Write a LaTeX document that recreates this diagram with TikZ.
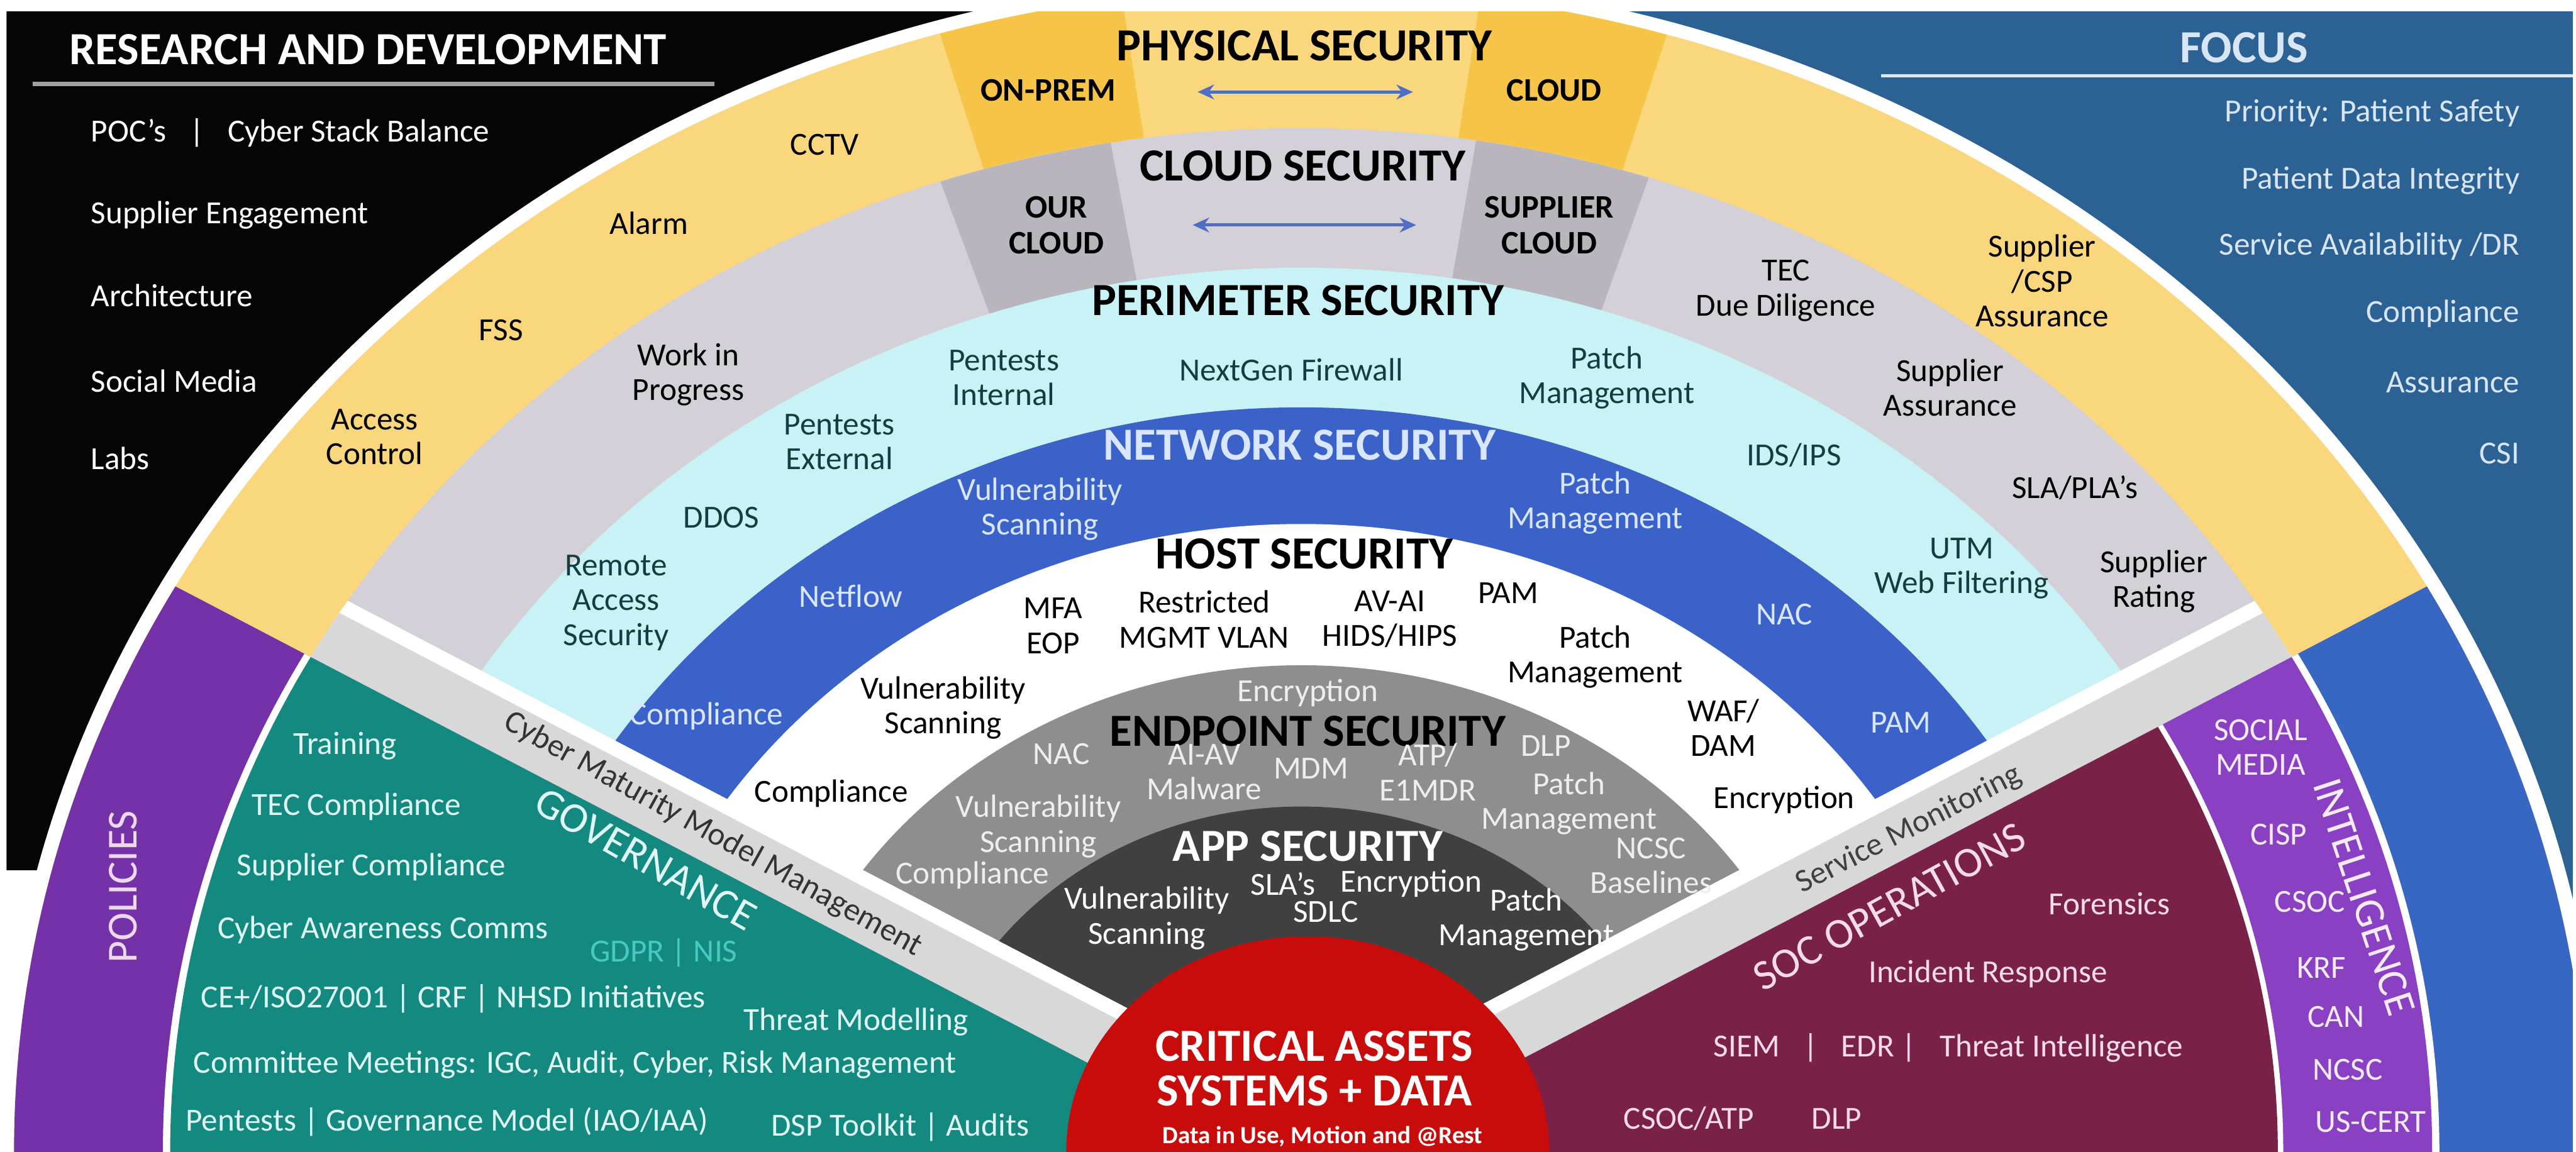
\documentclass[tikz,border=0pt]{standalone}
\usepackage{fontspec}
\setmainfont{Carlito}
\usetikzlibrary{arrows.meta}

\definecolor{rdblack}{HTML}{050505}
\definecolor{focusblue}{HTML}{2C6194}
\definecolor{focustext}{HTML}{D8E5F4}
\definecolor{physyel}{HTML}{FAD67C}
\definecolor{physdark}{HTML}{F6C446}
\definecolor{cloudgr}{HTML}{D3D1D7}
\definecolor{clouddark}{HTML}{B8B6BC}
\definecolor{perimcy}{HTML}{C9F2F7}
\definecolor{perimtext}{HTML}{173C40}
\definecolor{netblue}{HTML}{3B62C8}
\definecolor{nettext}{HTML}{D9E6FF}
\definecolor{endgr}{HTML}{8E8E8E}
\definecolor{endtext}{HTML}{EEEEEE}
\definecolor{appgr}{HTML}{404040}
\definecolor{critred}{HTML}{C80C0C}
\definecolor{govteal}{HTML}{13897F}
\definecolor{govtext}{HTML}{E0F8F5}
\definecolor{gdprtext}{HTML}{46C9C0}
\definecolor{polpurple}{HTML}{7431A8}
\definecolor{intpurple}{HTML}{8A40C2}
\definecolor{socmaroon}{HTML}{7A2148}
\definecolor{soctext}{HTML}{F6DBE9}
\definecolor{outblue}{HTML}{3866C3}
\definecolor{bandgr}{HTML}{D8D8D8}
\definecolor{arrowblue}{HTML}{4D6DC6}

\begin{document}
\begin{tikzpicture}[x=0.5pt, y=0.5pt,
    item/.style={font=\fontsize{9.8}{10.6}\selectfont, align=center, inner sep=0pt},
    hdr/.style={font=\bfseries\fontsize{14}{16}\selectfont, inner sep=0pt},
    tag/.style={font=\bfseries\fontsize{10}{11}\selectfont, align=center, inner sep=0pt},
    big/.style={font=\fontsize{13}{15}\selectfont, inner sep=0pt},
    twoway/.style={{Stealth[length=5pt,width=4.5pt]}-{Stealth[length=5pt,width=4.5pt]}, line width=1pt, draw=arrowblue}]

\useasboundingbox (0,0) rectangle (1568,701);
\fill[white] (0,0) rectangle (1568,701);

\begin{scope}
  \clip (4,0) rectangle (1566,694);
  \fill[rdblack] (4,171) rectangle (792,694);
  \fill[focusblue] (792,0) rectangle (1566,694);
  \begin{scope}[shift={(792,0)}, xscale=1.105]
    % rings, outside in
    \fill[white] (0,0) circle[radius=717];
    \fill[physyel] (0,0) circle[radius=709];
    \fill[physdark] (98:623) arc[start angle=98, end angle=106.3, radius=623] -- (106.3:709) arc[start angle=106.3, end angle=98, radius=709] -- cycle;
    \fill[physdark] (73.5:623) arc[start angle=73.5, end angle=82, radius=623] -- (82:709) arc[start angle=82, end angle=73.5, radius=709] -- cycle;
    \fill[cloudgr] (0,0) circle[radius=623];
    \fill[clouddark] (99.7:538) arc[start angle=99.7, end angle=108.6, radius=538] -- (108.6:623) arc[start angle=108.6, end angle=99.7, radius=623] -- cycle;
    \fill[clouddark] (72.1:538) arc[start angle=72.1, end angle=81.1, radius=538] -- (81.1:623) arc[start angle=81.1, end angle=72.1, radius=623] -- cycle;
    \fill[perimcy] (0,0) circle[radius=538];
    \fill[netblue] (0,0) circle[radius=453];
    \fill[white] (0,0) circle[radius=382];
    \fill[endgr] (0,0) circle[radius=296];
    \fill[appgr] (0,0) circle[radius=210];
    % separating bands
    \begin{scope}
      \clip (0,0) circle[radius=623];
      \fill[white] (0,-14) -- ++(150:800) -- ++(0,46) -- (0,32) -- cycle;
      \fill[white] (0,-14) -- ++(30:800) -- ++(0,46) -- (0,32) -- cycle;
      \fill[bandgr] (0,-14) -- ++(150:800) -- ++(0,36) -- (0,22) -- cycle;
      \fill[bandgr] (0,-14) -- ++(30:800) -- ++(0,36) -- (0,22) -- cycle;
    \end{scope}
    % governance and policies
    \begin{scope}
      \clip (0,-14) -- ++(150:900) -- (-900,-20) -- cycle;
      \fill[polpurple] (0,0) circle[radius=709];
      \fill[white] (0,0) circle[radius=627];
      \fill[govteal] (0,0) circle[radius=623];
    \end{scope}
    % soc and intelligence
    \begin{scope}
      \clip (0,-14) -- ++(30:900) -- (900,-20) -- cycle;
      \fill[outblue] (0,0) circle[radius=709];
      \fill[white] (0,0) circle[radius=627];
      \fill[intpurple] (0,0) circle[radius=623];
      \fill[white] (0,0) circle[radius=541];
      \fill[socmaroon] (0,0) circle[radius=538];
    \end{scope}
  \end{scope}
  \fill[critred] (796,0) ellipse[x radius=147, y radius=131];
\end{scope}

\draw[gray!75, line width=1.3pt] (20,650) -- (435,650);
\draw[focustext, line width=1pt] (1145,655) -- (1566,655);

\node[hdr, text=white] (rdtitle) at (224,671) {RESEARCH AND DEVELOPMENT};
\node[item, text=white, anchor=west] (rd1) at (55,620) {POC's\enspace\ |\enspace\ Cyber Stack Balance};
\node[item, text=white, anchor=west] (rd2) at (55,570) {Supplier Engagement};
\node[item, text=white, anchor=west] (rd3) at (55,521) {Architecture};
\node[item, text=white, anchor=west] (rd4) at (55,469) {Social Media};
\node[item, text=white, anchor=west] (rd5) at (55,422) {Labs};

\node[hdr, text=focustext] (focus) at (1366,672) {FOCUS};
\node[item, text=focustext, anchor=east] (f1) at (1534,632) {Priority: Patient Safety};
\node[item, text=focustext, anchor=east] (f2) at (1534,591) {Patient Data Integrity};
\node[item, text=focustext, anchor=east] (f3) at (1534,551) {Service Availability /DR};
\node[item, text=focustext, anchor=east] (f4) at (1534,510) {Compliance};
\node[item, text=focustext, anchor=east] (f5) at (1534,468) {Assurance};
\node[item, text=focustext, anchor=east] (f6) at (1534,425) {CSI};

\node[hdr] (phys) at (794,673) {PHYSICAL SECURITY};
\node[tag] (onprem) at (638,646) {ON-PREM};
\node[tag] (cloudp) at (946,646) {CLOUD};
\coordinate (pl) at (729,645);
\coordinate (pr) at (860,645);
\draw[twoway] (pl) -- (pr);
\node[item] (cctv) at (502,613) {CCTV};
\node[item] (alarm) at (395,565) {Alarm};
\node[item] (fss) at (305,500) {FSS};
\node[item] (access) at (228,435) {Access\\Control};
\node[item] (csp) at (1243,530) {Supplier\\/CSP\\Assurance};

\node[hdr] (cloud) at (793,600) {CLOUD SECURITY};
\node[tag] (ourcloud) at (643,564) {OUR\\CLOUD};
\node[tag] (suppcloud) at (943,564) {SUPPLIER\\CLOUD};
\coordinate (cl) at (726,564);
\coordinate (cr) at (862,564);
\draw[twoway] (cl) -- (cr);
\node[item] (wip) at (419,473) {Work in\\Progress};
\node[item] (tecdd) at (1087,524) {TEC\\Due Diligence};
\node[item] (suppas) at (1187,465) {Supplier\\Assurance};
\node[item] (slapla) at (1263,404) {SLA/PLA's};
\node[item] (supprate) at (1311,347) {Supplier\\Rating};

\node[hdr] (perim) at (790,518) {PERIMETER SECURITY};
\node[item, text=perimtext] (pentint) at (611,471) {Pentests\\Internal};
\node[item, text=perimtext] (nextgen) at (786,476) {NextGen Firewall};
\node[item, text=perimtext] (perpatch) at (978,471) {Patch\\Management};
\node[item, text=perimtext] (pentext) at (511,432) {Pentests\\External};
\node[item, text=perimtext] (ddos) at (439,386) {DDOS};
\node[item, text=perimtext] (remote) at (375,334) {Remote\\Access\\Security};
\node[item, text=perimtext] (idsips) at (1092,424) {IDS/IPS};
\node[item, text=perimtext] (utm) at (1194,355) {UTM\\Web Filtering};

\node[hdr, text=nettext] (net) at (791,430) {NETWORK SECURITY};
\node[item, text=nettext] (netvuln) at (633,391) {Vulnerability\\Scanning};
\node[item, text=nettext] (netpatch) at (971,395) {Patch\\Management};
\node[item, text=nettext] (netflow) at (518,338) {Netflow};
\node[item, text=nettext] (netnac) at (1086,327) {NAC};
\node[item, text=nettext] (netcomp) at (430,265) {Compliance};
\node[item, text=nettext] (netpam) at (1157,261) {PAM};

\node[hdr] (host) at (794,364) {HOST SECURITY};
\node[item] (mfa) at (641,320) {MFA\\EOP};
\node[item] (mgmt) at (733,324) {Restricted\\MGMT VLAN};
\node[item] (avai) at (846,324) {AV-AI\\HIDS/HIPS};
\node[item] (hostpam) at (918,340) {PAM};
\node[item] (hostpatch) at (971,301) {Patch\\Management};
\node[item] (hostvuln) at (574,270) {Vulnerability\\Scanning};
\node[item] (wafdam) at (1049,258) {WAF/\\DAM};
\node[item] (hostcomp) at (506,218) {Compliance};
\node[item] (hostenc) at (1086,214) {Encryption};

\node[item, text=endtext] (endenc) at (796,279) {Encryption};
\node[hdr] (endp) at (796,256) {ENDPOINT SECURITY};
\node[item, text=endtext] (endnac) at (646,242) {NAC};
\node[item, text=endtext] (aiav) at (733,231) {AI-AV\\Malware};
\node[item, text=endtext] (mdm) at (798,233) {MDM};
\node[item, text=endtext] (atp) at (869,231) {ATP/\\E1MDR};
\node[item, text=endtext] (enddlp) at (941,247) {DLP};
\node[item, text=endtext] (endpatch) at (955,212) {Patch\\Management};
\node[item, text=endtext] (endvuln) at (632,198) {Vulnerability\\Scanning};
\node[item, text=endtext] (endcomp) at (592,168) {Compliance};
\node[item, text=endtext] (ncsc) at (1005,174) {NCSC\\Baselines};

\node[hdr, text=white] (app) at (796,186) {APP SECURITY};
\node[item, text=white] (slas) at (781,163) {SLA's};
\node[item, text=white] (sdlc) at (807,146) {SDLC};
\node[item, text=white] (appenc) at (859,163) {Encryption};
\node[item, text=white] (appvuln) at (698,142) {Vulnerability\\Scanning};
\node[item, text=white] (apppatch) at (929,141) {Patch\\Management};

\node[hdr, text=white] (crit1) at (800,64) {CRITICAL ASSETS};
\node[hdr, text=white] (crit2) at (800,37) {SYSTEMS + DATA};
\node[font=\bfseries\fontsize{7.5}{9}\selectfont, text=white, inner sep=0pt] (critsub) at (805,9) {Data in Use, Motion and @Rest};

\node[item, text=govtext] (training) at (210,247) {Training};
\node[item, text=govtext] (teccomp) at (217,210) {TEC Compliance};
\node[item, text=govtext] (suppcomp) at (226,173) {Supplier Compliance};
\node[item, text=govtext] (aware) at (233,135) {Cyber Awareness Comms};
\node[item, text=gdprtext] (gdpr) at (404,121) {GDPR | NIS};
\node[item, text=govtext] (ce) at (276,93) {CE+/ISO27001 | CRF | NHSD Initiatives};
\node[item, text=govtext] (threat) at (521,79) {Threat Modelling};
\node[item, text=govtext] (committee) at (350,53) {Committee Meetings: IGC, Audit, Cyber, Risk Management};
\node[item, text=govtext] (pentgov) at (272,18) {Pentests | Governance Model (IAO/IAA)};
\node[item, text=govtext] (dsp) at (548,15) {DSP Toolkit | Audits};
\node[big, text=govtext, rotate=-29.6] (gov) at (393,178) {GOVERNANCE};
\node[big, text=violet!15, rotate=90] (pol) at (75,161) {POLICIES};
\node[item, text=black!80, rotate=-29] (cmmm) at (434,193) {Cyber Maturity Model Management};

\node[item, text=soctext] (forensics) at (1284,151) {Forensics};
\node[item, text=soctext] (incident) at (1210,108) {Incident Response};
\node[item, text=soctext] (siem) at (1186,63) {SIEM\enspace\ |\enspace\ EDR |\enspace\ Threat Intelligence};
\node[item, text=soctext] (csocatp) at (1028,20) {CSOC/ATP};
\node[item, text=soctext] (socdlp) at (1118,20) {DLP};
\node[big, text=soctext, rotate=28.8] (soc) at (1150,149) {SOC OPERATIONS};
\node[item, text=black!75, rotate=26.9] (servmon) at (1162,196) {Service Monitoring};

\node[item, text=violet!8] (social) at (1376,246) {SOCIAL\\MEDIA};
\node[item, text=violet!8] (cisp) at (1387,193) {CISP};
\node[item, text=violet!8] (csoc) at (1406,152) {CSOC};
\node[item, text=violet!8] (krf) at (1413,112) {KRF};
\node[item, text=violet!8] (can) at (1422,82) {CAN};
\node[item, text=violet!8] (ncscint) at (1429,50) {NCSC};
\node[item, text=violet!8] (uscert) at (1443,18) {US-CERT};
\node[big, text=violet!8, rotate=-71.7] (intel) at (1439,155) {INTELLIGENCE};
\end{tikzpicture}
\end{document}
